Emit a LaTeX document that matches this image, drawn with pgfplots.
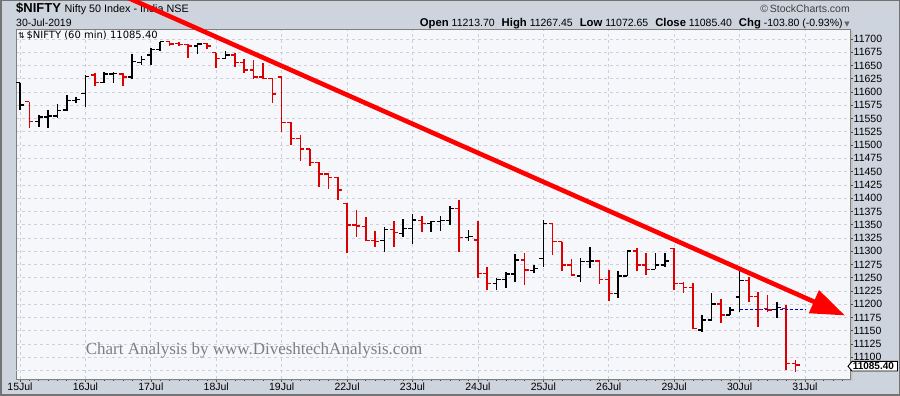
\documentclass[border=0pt]{standalone}
\usepackage{fontspec}
\setmainfont{Liberation Sans}
\newfontfamily\dejavu{DejaVu Sans}
\newfontfamily\wmserif{Liberation Serif}
\usepackage{pgfplots}
\pgfplotsset{compat=1.18}
\usepackage{pgfplotstable}
\usetikzlibrary{arrows.meta}
\definecolor{bgout}{RGB}{206,212,222}
\definecolor{plotbg}{RGB}{246,247,251}
\definecolor{gridc}{RGB}{205,208,218}
\definecolor{barred}{RGB}{222,0,0}
\definecolor{trend}{RGB}{255,0,0}
\definecolor{wmgray}{RGB}{125,125,135}

\pgfdeclareplotmark{ohlcopen}{\pgfpathmoveto{\pgfqpoint{-\pgfplotmarksize}{0pt}}\pgfpathlineto{\pgfqpoint{0pt}{0pt}}\pgfusepathqstroke}
\pgfdeclareplotmark{ohlcclose}{\pgfpathmoveto{\pgfqpoint{0pt}{0pt}}\pgfpathlineto{\pgfqpoint{\pgfplotmarksize}{0pt}}\pgfusepathqstroke}

\pgfplotstableread{
x o h l c
0 11617.7 11617.7 11566.2 11575.6
2 11544.2 11556.7 11533.5 11552.4
3 11552.4 11566.2 11531.6 11554.9
4 11554.9 11577.5 11550.5 11564.9
5 11566.2 11593.8 11564.9 11583.8
6 11583.8 11591.3 11578.8 11586.3
7 11597.6 11632.2 11572.5 11629.0
9 11617.7 11638.4 11616.4 11634.0
10 11634.0 11638.4 11617.7 11635.3
12 11627.8 11671.7 11624.0 11657.3
13 11656.0 11668.0 11651.0 11661.7
14 11669.8 11682.4 11651.0 11680.5
15 11680.5 11695.0 11678.0 11695.0
19 11686.8 11693.1 11671.7 11690.6
22 11663.6 11678.0 11663.6 11669.8
39 11319.9 11346.2 11299.1 11341.2
41 11333.7 11360.1 11326.1 11343.1
42 11343.1 11370.1 11312.9 11358.8
44 11352.5 11357.6 11336.8 11355.7
45 11355.7 11366.3 11338.7 11357.6
46 11357.6 11385.2 11349.4 11380.8
48 11326.1 11339.9 11319.9 11327.4
51 11239.4 11248.8 11226.9 11247.0
52 11247.0 11261.4 11230.0 11257.0
53 11257.0 11294.7 11242.6 11283.4
55 11263.3 11274.0 11259.5 11267.7
56 11286.6 11358.8 11270.9 11352.5
60 11253.3 11286.6 11242.6 11280.3
61 11280.3 11307.3 11267.7 11281.5
64 11220.6 11263.3 11211.1 11253.3
65 11253.3 11301.0 11253.3 11300.4
68 11265.8 11296.0 11265.8 11274.0
69 11274.0 11297.2 11269.6 11281.5
73 11151.5 11179.7 11148.3 11170.3
74 11170.3 11220.6 11169.0 11200.5
76 11179.7 11194.2 11179.7 11189.2
77 11213.7 11267.45 11186.0 11244.5
81 11190.4 11204.9 11173.5 11194.2
}\upbars

\pgfplotstableread{
x o h l c
1 11581.9 11581.9 11531.6 11544.2
8 11632.2 11636.5 11611.4 11617.7
11 11634.0 11635.3 11611.4 11627.8
16 11695.0 11695.0 11686.8 11690.6
17 11691.8 11695.0 11686.8 11689.3
18 11689.3 11690.6 11663.6 11686.8
20 11691.8 11693.1 11680.5 11686.8
21 11674.2 11674.2 11644.7 11663.6
23 11669.8 11674.2 11647.9 11656.0
24 11656.0 11661.7 11635.3 11641.6
25 11641.6 11660.4 11624.0 11627.8
26 11627.8 11654.1 11624.0 11625.9
27 11625.9 11625.9 11580.0 11596.3
28 11627.8 11629.0 11525.3 11542.9
29 11542.9 11542.9 11500.2 11512.8
30 11512.8 11519.0 11470.7 11492.7
31 11492.7 11492.7 11460.6 11467.5
32 11467.5 11467.5 11421.6 11445.5
33 11445.5 11446.8 11416.6 11439.2
34 11439.2 11439.2 11396.5 11415.4
35 11390.2 11390.2 11297.2 11349.4
36 11349.4 11377.6 11327.4 11347.5
37 11346.2 11365.1 11319.9 11319.9
38 11319.9 11338.1 11308.5 11318.5
40 11341.2 11357.6 11308.5 11335.6
43 11357.6 11366.3 11336.8 11352.5
47 11380.8 11396.5 11299.1 11326.1
49 11321.1 11357.6 11248.8 11258.3
50 11258.3 11269.6 11226.9 11239.4
54 11283.4 11297.2 11236.3 11264.6
57 11352.5 11353.8 11292.8 11318.0
58 11318.0 11318.0 11263.3 11274.0
59 11274.0 11284.7 11253.3 11255.1
62 11281.5 11283.4 11238.2 11247.0
63 11247.0 11264.6 11206.7 11220.6
66 11300.4 11305.4 11263.3 11274.0
67 11274.0 11296.0 11255.1 11265.8
70 11305.4 11305.4 11226.9 11239.4
71 11239.4 11242.6 11220.6 11231.9
72 11231.9 11239.4 11152.7 11154.6
75 11200.5 11209.3 11164.0 11179.7
78 11244.5 11252.0 11204.9 11214.3
79 11214.3 11223.7 11157.7 11190.4
80 11192.3 11217.4 11186.0 11189.5
82 11192.3 11198.6 11076.0 11088.0
83 11088.0 11094.9 11072.65 11085.4
}\downbars

\begin{document}
\begin{tikzpicture}[x=1pt,y=1pt]
\path[use as bounding box] (0,0) rectangle (900,396);
\fill[bgout] (0,0) rectangle (900,396);
\draw[black!55, line width=1.5pt] (0.75,0.75) rectangle (899.25,395.25);
% plot shadow
\fill[black!22] (18,14.5) rectangle (853,365);
% header
\node[anchor=base west, inner sep=0] at (16,383) {\fontsize{13}{14}\selectfont\bfseries \$NIFTY\ \mdseries\fontsize{10.8}{12}\selectfont Nifty 50 Index - India NSE};
\node[anchor=base west, inner sep=0] at (16,369.5) {\fontsize{10.5}{12}\selectfont 30-Jul-2019};
\node[anchor=base east, inner sep=0, text=black!75] at (850,383) {\fontsize{10.5}{12}\selectfont \textcopyright\,StockCharts.com};
\node[anchor=base east, inner sep=0] at (850,369.5) {\fontsize{10.5}{12}\selectfont {\fontsize{11.3}{12}\selectfont\bfseries Open} 11213.70\hspace{7pt}{\fontsize{11.3}{12}\selectfont\bfseries High} 11267.45\hspace{7pt}{\fontsize{11.3}{12}\selectfont\bfseries Low} 11072.65\hspace{7pt}{\fontsize{11.3}{12}\selectfont\bfseries Close} 11085.40\hspace{7pt}{\fontsize{11.3}{12}\selectfont\bfseries Chg} -103.80 (-0.93\%)\,{\dejavu\fontsize{7}{8}\selectfont\textcolor{black!60}{▼}}};
\begin{axis}[
  at={(16pt,17pt)}, anchor=south west,
  scale only axis, width=834pt, height=350pt,
  xmin=-0.43, xmax=88.82, ymin=11059.1, ymax=11718.85,
  axis background/.style={fill=plotbg},
  axis line style={draw=black!50, line width=0.8pt},
  xtick={0,7,...,84},
  xticklabels={15Jul,16Jul,17Jul,18Jul,19Jul,22Jul,23Jul,24Jul,25Jul,26Jul,29Jul,30Jul,31Jul},
  minor xtick={0,...,88},
  ytick={11100,11125,...,11700},
  extra y ticks={11075},
  extra y tick labels={},
  xtick pos=lower, ytick pos=right, yticklabel pos=right,
  tick align=outside,
  major tick length=3pt, minor tick length=2pt,
  tick style={black!70, line width=0.6pt},
  grid=major,
  major grid style={dash pattern=on 3pt off 3pt, gridc, line width=0.7pt},
  extra tick style={grid=major},
  scaled y ticks=false,
  /pgf/number format/assume math mode=true,
  /pgf/number format/fixed,
  /pgf/number format/precision=0,
  /pgf/number format/1000 sep={},
  yticklabel style={inner sep=0pt, xshift=0.5pt},
  xticklabel style={inner sep=0pt, yshift=-0.5pt},
  ticklabel style={font=\fontsize{10.5}{12}\selectfont},
  clip=false,
]
% black (up) bars
\addplot[black, only marks, mark=ohlcclose, mark size=4pt, mark options={line width=1.6pt},
  error bars/.cd, y dir=both, y explicit, error mark=none,
  error bar style={line width=1.6pt, black}]
  table[x=x, y=c, y error plus expr=\thisrow{h}-\thisrow{c}, y error minus expr=\thisrow{c}-\thisrow{l}] {\upbars};
\addplot[black, only marks, mark=ohlcopen, mark size=4pt, mark options={line width=1.6pt}]
  table[x=x, y=o] {\upbars};
% red (down) bars
\addplot[barred, only marks, mark=ohlcclose, mark size=4pt, mark options={line width=1.6pt},
  error bars/.cd, y dir=both, y explicit, error mark=none,
  error bar style={line width=1.6pt, barred}]
  table[x=x, y=c, y error plus expr=\thisrow{h}-\thisrow{c}, y error minus expr=\thisrow{c}-\thisrow{l}] {\downbars};
\addplot[barred, only marks, mark=ohlcopen, mark size=4pt, mark options={line width=1.6pt}]
  table[x=x, y=o] {\downbars};
% previous close line
\addplot[blue!80!black, line width=1pt, dash pattern=on 3pt off 2pt] coordinates {(77,11189.2) (84,11189.2)};
% trend line
\addplot[trend, line width=4.6pt, -{Triangle[length=34pt,width=24pt]}] coordinates {(11.5,11778.0) (88.28,11178.9)};
\coordinate (pl) at (axis cs:88.82,11085.4);
\end{axis}
% last price label
\draw[black, line width=0.9pt, fill=white] ([xshift=-2pt,yshift=-1.2pt]pl) -- ++(4,4.8) -- ++(45.5,0) -- ++(0,-9.6) -- ++(-45.5,0) -- cycle;
\node[anchor=west, inner sep=0] at ([xshift=2.6pt,yshift=-1.2pt]pl) {\fontsize{10}{11}\selectfont\bfseries 11085.40};
% watermark
\node[text=wmgray, inner sep=0] at (254,46) {\wmserif\fontsize{17}{20}\selectfont Chart Analysis by www.DiveshtechAnalysis.com};
% in-plot label
\node[anchor=base west, inner sep=0] at (18,357) {\fontsize{10}{12}\selectfont{\dejavu\fontsize{8}{9}\selectfont ⇅}\,{\dejavu \$NIFTY (60 min) 11085.40}};
\end{tikzpicture}
\end{document}
